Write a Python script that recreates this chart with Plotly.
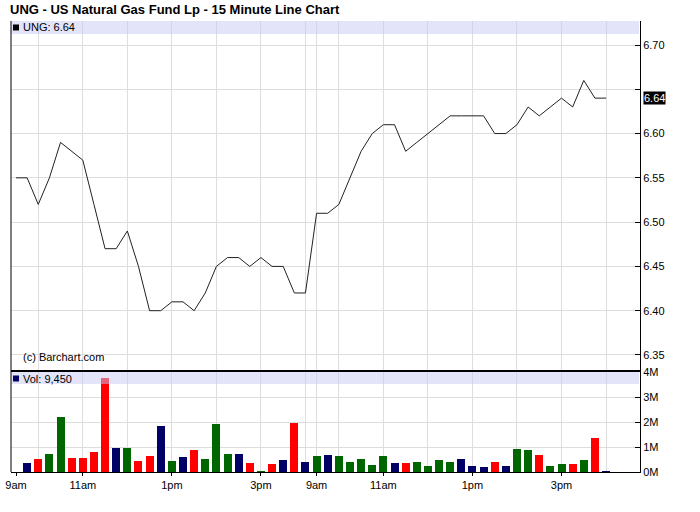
import plotly.graph_objects as go

# ---- data ----
price = [6.55, 6.55, 6.52, 6.55, 6.59, 6.58, 6.57, 6.52, 6.47, 6.47, 6.49, 6.45, 6.40, 6.40,
         6.41, 6.41, 6.40, 6.42, 6.45, 6.46, 6.46, 6.45, 6.46, 6.45, 6.45, 6.42, 6.42,
         6.51, 6.51, 6.52, 6.55, 6.58, 6.60, 6.61, 6.61, 6.58, 6.59, 6.60, 6.61, 6.62, 6.62,
         6.62, 6.62, 6.60, 6.60, 6.61, 6.63, 6.62, 6.63, 6.64, 6.63, 6.66, 6.64, 6.64]
volume_m = [0.0, 0.36, 0.53, 0.74, 2.20, 0.57, 0.57, 0.82, 3.78, 0.97, 0.97, 0.45, 0.65, 1.86,
            0.45, 0.61, 0.89, 0.53, 1.91, 0.74, 0.74, 0.36, 0.04, 0.32, 0.49, 1.96, 0.41,
            0.65, 0.69, 0.65, 0.42, 0.53, 0.28, 0.65, 0.36, 0.36, 0.41, 0.24, 0.49, 0.41, 0.53,
            0.24, 0.20, 0.41, 0.24, 0.93, 0.89, 0.69, 0.24, 0.32, 0.32, 0.49, 1.38, 0.00945]
label_pos = [-1, 5, 13, 21, 26, 32, 40, 48]
label_text = ["9am", "11am", "1pm", "3pm", "9am", "11am", "1pm", "3pm"]
grid_pos = [1, 5, 9, 13, 17, 21, 25, 26, 28, 32, 36, 40, 44, 48, 52]
price_ticks = [6.35, 6.40, 6.45, 6.50, 6.55, 6.60, 6.65, 6.70]
price_ticktext = ["6.35", "6.40", "6.45", "6.50", "6.55", "6.60", "", "6.70"]
vol_ticks = [0, 1e6, 2e6, 3e6, 4e6]
vol_ticktext = ["0M", "1M", "2M", "3M", "4M"]
last_price = "6.64"
last_volume = "9,450"

UP, DOWN, FLAT = "#006600", "#FF0000", "#000066"

x = list(range(-1, len(price) - 1))
colors = []
for k in range(len(price)):
    if k == 0 or abs(price[k] - price[k - 1]) < 1e-9:
        colors.append(FLAT)
    elif price[k] > price[k - 1]:
        colors.append(UP)
    else:
        colors.append(DOWN)
volume = [v * 1e6 for v in volume_m]

# ---- geometry helpers (pixels -> paper) ----
W, H = 700, 512
ML, MR, MT, MB = 11, 60, 21, 40
PW, PH = W - ML - MR, H - MT - MB
def px(xp):
    return (xp - ML) / PW
def py(yp):
    return (H - MB - yp) / PH

vol_frac = py(371)
FONT = "Liberation Sans, Arial, sans-serif"
GRID = "#DDDDDD"

fig = go.Figure()
fig.add_trace(go.Scatter(x=x, y=price, mode="lines", line=dict(color="#222222", width=1),
                         xaxis="x", yaxis="y", hoverinfo="skip"))
fig.add_trace(go.Bar(x=x, y=volume, marker=dict(color=colors, line=dict(width=0)), width=0.72,
                     xaxis="x2", yaxis="y2", hoverinfo="skip"))

xr = [-1.45, 55.05]
minor_grid = dict(tickmode="array", tickvals=grid_pos, showgrid=True, gridcolor=GRID,
                  gridwidth=1, ticks="")

fig.update_layout(
    width=W, height=H, margin=dict(l=ML, r=MR, t=MT, b=MB, autoexpand=False),
    plot_bgcolor="white", paper_bgcolor="white", showlegend=False,
    font=dict(family=FONT, size=11, color="black"),
    title=dict(text="<b>UNG - US Natural Gas Fund Lp - 15 Minute Line Chart</b>",
               x=10 / W, xanchor="left", xref="container", y=1 - 9 / H, yanchor="middle",
               yref="container", automargin=False,
               font=dict(family=FONT, size=13, color="black")),
    xaxis=dict(domain=[0, 1], range=xr, anchor="y", showticklabels=False, showgrid=False,
               zeroline=False, showline=False, ticks="", minor=minor_grid, automargin=False),
    yaxis=dict(domain=[vol_frac, 1], range=[6.3319, 6.7271], side="right", anchor="x",
               tickmode="array", tickvals=price_ticks, ticktext=price_ticktext,
               ticks="inside", ticklen=5, tickcolor="black", showline=True, linecolor="black",
               linewidth=1, showgrid=True, gridcolor=GRID, zeroline=False, automargin=False,
               tickfont=dict(family=FONT, size=11, color="black")),
    xaxis2=dict(domain=[0, 1], range=xr, anchor="y2", matches="x", tickmode="array",
                tickvals=label_pos, ticktext=label_text, ticks="outside", ticklen=3,
                tickcolor="black", showgrid=False, zeroline=False, showline=True,
                linecolor="black", linewidth=1, minor=minor_grid, automargin=False,
                tickfont=dict(family=FONT, size=11, color="black")),
    yaxis2=dict(domain=[0, vol_frac], range=[0, 4.04e6], side="right", anchor="x2",
                tickmode="array", tickvals=vol_ticks, ticktext=vol_ticktext,
                ticks="inside", ticklen=5, tickcolor="black", showline=True, linecolor="black",
                linewidth=1, showgrid=True, gridcolor=GRID, zeroline=False, automargin=False,
                tickfont=dict(family=FONT, size=11, color="black")),
    bargap=0,
)

shapes = [
    # header bands (semi-transparent, above the data)
    dict(type="rect", xref="paper", yref="paper", x0=0, x1=px(639), y0=py(34), y1=py(21),
         fillcolor="rgb(200,200,245)", opacity=0.5, line=dict(width=0), layer="above"),
    dict(type="rect", xref="paper", yref="paper", x0=0, x1=px(639), y0=py(384), y1=py(372),
         fillcolor="rgb(200,200,245)", opacity=0.5, line=dict(width=0), layer="above"),
    # left border
    dict(type="line", xref="paper", yref="paper", x0=0, x1=0, y0=0, y1=1,
         line=dict(color="black", width=1), layer="above"),
    # panel separator
    dict(type="line", xref="paper", yref="paper", x0=0, x1=1, y0=vol_frac, y1=vol_frac,
         line=dict(color="black", width=2), layer="above"),
    # legend squares
    dict(type="rect", xref="paper", yref="paper", x0=px(13), x1=px(19), y0=py(30.5), y1=py(24.5),
         fillcolor="black", line=dict(width=0), layer="above"),
    dict(type="rect", xref="paper", yref="paper", x0=px(13), x1=px(19), y0=py(381.5), y1=py(375.5),
         fillcolor=FLAT, line=dict(width=0), layer="above"),
]
fig.update_layout(shapes=shapes)

annotations = [
    dict(text="UNG: " + last_price, xref="paper", yref="paper", x=px(21), y=py(27.5),
         xanchor="left", yanchor="middle", showarrow=False, font=dict(size=11, color="black")),
    dict(text="Vol: " + last_volume, xref="paper", yref="paper", x=px(21), y=py(378.5),
         xanchor="left", yanchor="middle", showarrow=False, font=dict(size=11, color="black")),
    dict(text="(c) Barchart.com", xref="paper", yref="paper", x=px(21), y=py(357),
         xanchor="left", yanchor="middle", showarrow=False, font=dict(size=11, color="black")),
    dict(text=last_price, xref="paper", yref="y", x=px(643), y=price[-1],
         xanchor="left", yanchor="middle", showarrow=False, bgcolor="black", borderpad=0,
         font=dict(size=11, color="white")),
]
fig.update_layout(annotations=annotations)

fig.write_html("out.html", config={"displayModeBar": False},
               post_script="document.body.style.margin='0px';document.body.style.overflow='hidden';")
